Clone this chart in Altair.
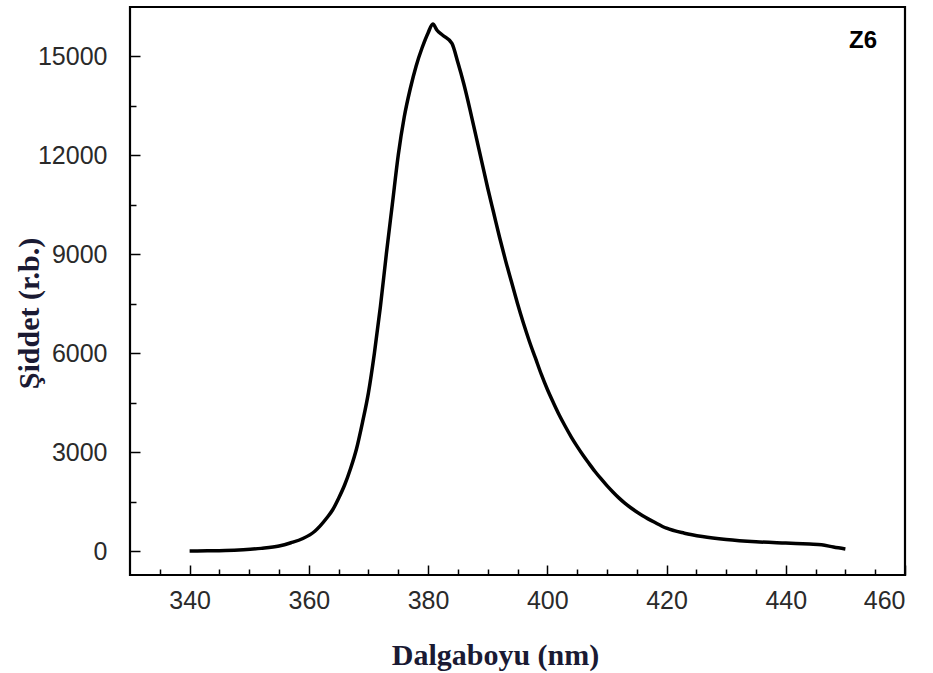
import altair as alt
import pandas as pd

wavelength = [340, 343, 346, 349, 352, 355, 357, 359, 361, 363, 364, 365, 366, 367, 368, 369,
              370, 371, 372, 373, 374, 375, 376, 377, 378, 379, 380, 380.8, 381.5, 382.5, 384,
              385, 386, 387, 388, 389, 390, 391, 392, 393, 394, 395, 396, 397, 398, 399,
              400, 401, 402, 403, 404, 405, 406, 407, 408, 409, 410, 411, 412, 413, 414,
              416, 418, 420, 423, 426, 430, 435, 440, 444, 446, 448, 450]
intensity = [0, 5, 15, 40, 80, 150, 250, 380, 600, 1000, 1250, 1600, 2000, 2500, 3100, 3900,
             4800, 6000, 7400, 9000, 10500, 12000, 13150, 14000, 14700, 15250, 15700, 15970,
             15780, 15620, 15380, 14800, 14150, 13400, 12600, 11800, 11000, 10250, 9500,
             8800, 8150, 7500, 6900, 6350, 5850, 5350, 4900, 4500, 4120, 3780, 3460, 3170,
             2900, 2650, 2410, 2190, 1980, 1790, 1610, 1450, 1310, 1070, 870, 690, 540, 440,
             350, 280, 240, 210, 190, 120, 60]

x_major = [340, 360, 380, 400, 420, 440, 460]
x_minor = [335, 345, 350, 355, 365, 370, 375, 385, 390, 395, 405, 410, 415, 425, 430,
           435, 445, 450, 455]
y_major = [0, 3000, 6000, 9000, 12000, 15000]
y_minor = [1500, 4500, 7500, 10500, 13500]

x_title = "Dalgaboyu (nm)"
y_title = "Şiddet (r.b.)"
sample_label = "Z6"

df = pd.DataFrame({"wl": wavelength, "I": intensity})

xs = alt.Scale(domain=[330, 460], nice=False, zero=False)
ys = alt.Scale(domain=[-727, 16485], nice=False, zero=False)

title_color = "#1a1a33"
label_color = "#2a2a2a"

main = alt.Chart(df).mark_line(color="black", strokeWidth=3.5, interpolate="monotone").encode(
    x=alt.X("wl:Q", scale=xs, axis=alt.Axis(
        values=x_major, orient="bottom", offset=-10, tickSize=10, tickWidth=1.5,
        tickColor="black", domain=False, grid=False, labelPadding=13, format="d",
        labelFont="Liberation Sans", labelFontSize=25, labelColor=label_color,
        title=x_title, titleFont="Liberation Serif", titleFontSize=30,
        titleFontWeight="bold", titleColor=title_color, titleX=365, titleY=99,
        titleAlign="center", titleBaseline="alphabetic")),
    y=alt.Y("I:Q", scale=ys, axis=alt.Axis(
        values=y_major, orient="left", offset=-10, tickSize=10, tickWidth=1.5,
        tickColor="black", domain=False, grid=False, labelPadding=23, format="d",
        labelFont="Liberation Sans", labelFontSize=25, labelColor=label_color,
        title=y_title, titleFont="Liberation Serif", titleFontSize=30,
        titleFontWeight="bold", titleColor=title_color, titleX=-111, titleY=306,
        titleAngle=270, titleAlign="center", titleBaseline="middle")),
)

minor = alt.Chart(df).mark_line(opacity=0).encode(
    x=alt.X("wl:Q", scale=xs, axis=alt.Axis(
        values=x_minor, orient="bottom", offset=-6, tickSize=6, tickWidth=1.5,
        tickColor="black", domain=False, grid=False, labels=False, title=None)),
    y=alt.Y("I:Q", scale=ys, axis=alt.Axis(
        values=y_minor, orient="left", offset=-6, tickSize=6, tickWidth=1.5,
        tickColor="black", domain=False, grid=False, labels=False, title=None)),
)

label = alt.Chart(pd.DataFrame({"t": [sample_label]})).mark_text(
    font="Liberation Sans", fontSize=24, fontWeight="bold", color="black",
    align="center", baseline="middle"
).encode(x=alt.value(733), y=alt.value(34), text="t:N")

chart = alt.layer(main, minor, label).resolve_axis(x="independent", y="independent").properties(
    width=775, height=568,
    background="white",
    autosize=alt.AutoSizeParams(type="none"),
    padding={"left": 130, "top": 7, "right": 28, "bottom": 98},
).configure_view(stroke="black", strokeWidth=2.2)

chart.save("out.html", embed_options={"renderer": "svg", "actions": False})
